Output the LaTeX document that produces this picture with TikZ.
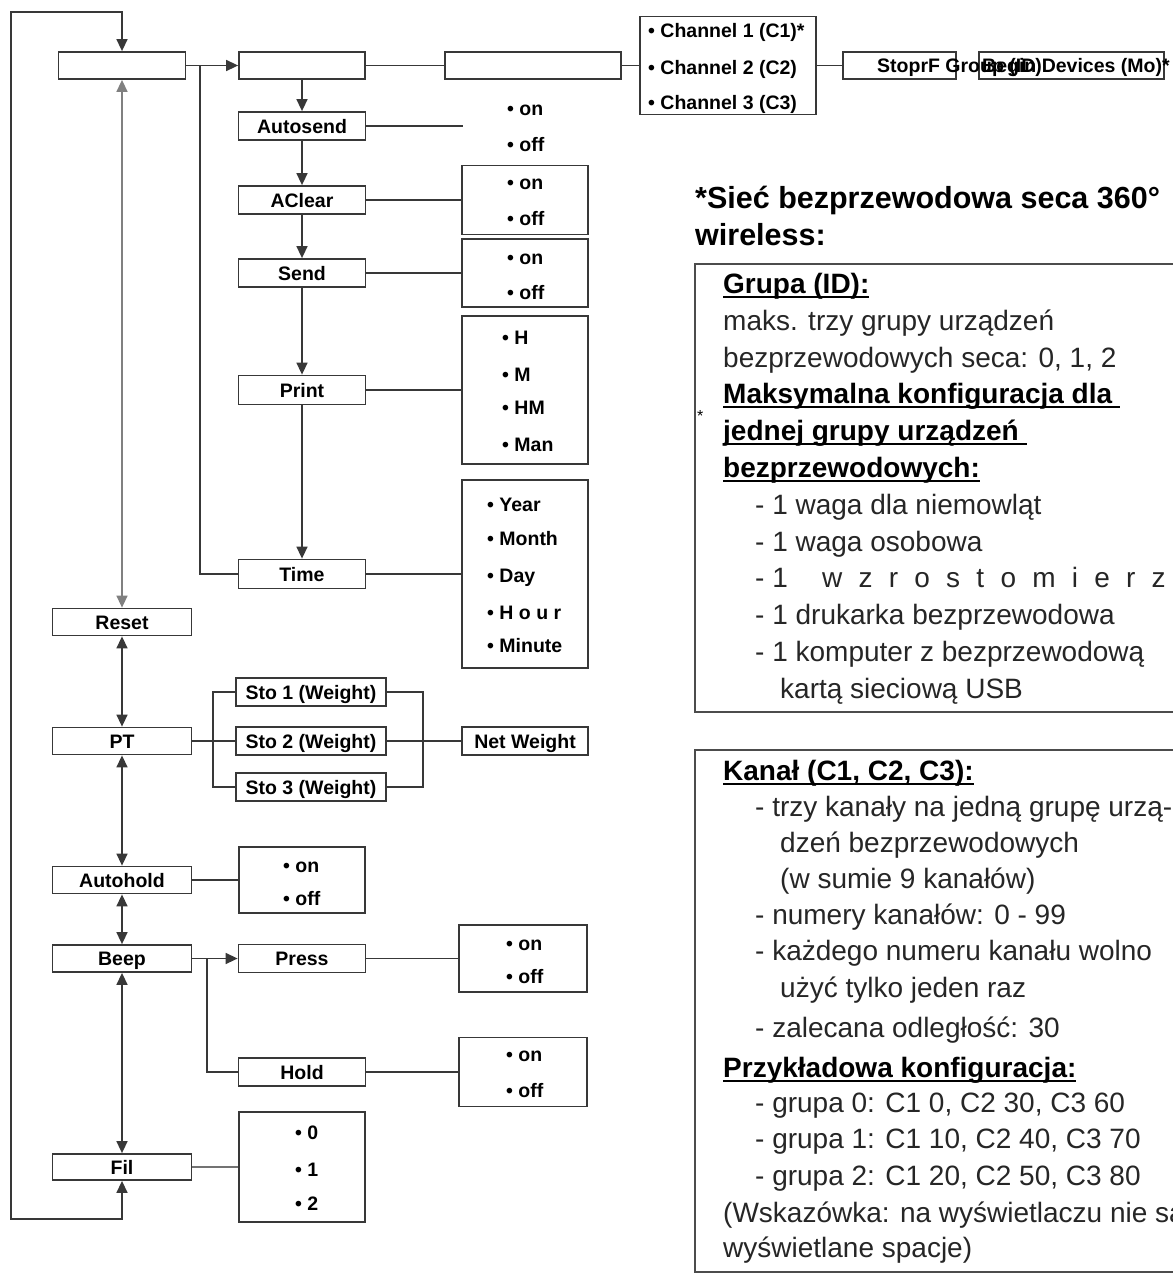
\documentclass[tikz,border=0pt]{standalone}
\usepackage{fontspec}
\setmainfont{Liberation Sans}
\usetikzlibrary{arrows.meta}
\newsavebox\ulbox
\newcommand\ulx[1]{\sbox\ulbox{#1}\rlap{\rule[-5pt]{\wd\ulbox}{2pt}}\usebox\ulbox}
\begin{document}
\begin{tikzpicture}[x=1pt,y=-1pt,
  lbl/.style={font=\fontsize{19.5}{22}\selectfont\bfseries},
  bx/.style={draw=black!78, line width=1.8pt, inner sep=0pt, lbl, text height=14pt, text depth=0pt},
  ln/.style={draw=black!78, line width=1.5pt},
  ar/.style={ln, -{Triangle[length=12pt,width=11pt]}},
  bi/.style={ln, {Triangle[length=12pt,width=11pt]}-{Triangle[length=12pt,width=11pt]}},
  opt/.style={lbl, anchor=base west, inner sep=0pt},
  ptx/.style={font=\fontsize{28}{32}\selectfont, anchor=base west, inner sep=0pt, text=black!85},
  pbx/.style={font=\fontsize{28}{32}\selectfont\bfseries, anchor=base west, inner sep=0pt},
  ttl/.style={font=\fontsize{30.5}{34}\selectfont\bfseries, anchor=base west, inner sep=0pt},
  pframe/.style={draw=black!70, line width=1.8pt}
]
\useasboundingbox (0,0) rectangle (1173,1278);
\fill[white] (0,0) rectangle (1173,1278);
\clip (0,0) rectangle (1173,1278);

% ---------- top row ----------
\node[bx, minimum width=127pt, minimum height=27pt] (b1) at (122,65.5) {};
\node[bx, minimum width=126pt, minimum height=27pt] (b2) at (302,65.5) {};
\node[bx, minimum width=176pt, minimum height=27pt] (b3) at (533,65.5) {};
\node[bx, minimum width=176pt, minimum height=98pt] (ch) at (728,65.5) {};
\node[opt] (c1) at (648,37) {• Channel 1 (C1)*};
\node[opt] (c2) at (648,74) {• Channel 2 (C2)};
\node[opt] (c3) at (648,109) {• Channel 3 (C3)};
\node[bx, minimum width=113pt, minimum height=27pt] (sf1) at (899.5,65.5) {};
\node[bx, minimum width=185pt, minimum height=27pt] (sf2) at (1071.5,65.5) {};
\node[opt] (sfa) at (877,72.5) {StoprF Group (ID)};
\node[opt] (sfb) at (982,72.5) {Begin Devices (Mo)*};

% ---------- middle column ----------
\node[bx, minimum width=127pt, minimum height=28pt] (as) at (302,126) {Autosend};
\node[bx, minimum width=127pt, minimum height=28pt] (ac) at (302,200) {AClear};
\node[bx, minimum width=127pt, minimum height=28pt] (se) at (302,273) {Send};
\node[bx, minimum width=127pt, minimum height=29pt] (pr) at (302,390) {Print};
\node[bx, minimum width=127pt, minimum height=29pt] (ti) at (302,574) {Time};

\coordinate (asend) at (463,126);
\node[opt] (as1) at (507,115) {• on};
\node[opt] (as2) at (507,151) {• off};
\node[bx, minimum width=126pt, minimum height=69pt] (aco) at (525,200) {};
\node[opt] (ac1) at (507,189) {• on};
\node[opt] (ac2) at (507,225) {• off};
\node[bx, minimum width=126pt, minimum height=68pt] (seo) at (525,273) {};
\node[opt] (se1) at (507,264) {• on};
\node[opt] (se2) at (507,299) {• off};
\node[bx, minimum width=126pt, minimum height=148pt] (pro) at (525,390) {};
\node[opt] (pr1) at (502,344) {• H};
\node[opt] (pr2) at (502,381) {• M};
\node[opt] (pr3) at (502,414) {• HM};
\node[opt] (pr4) at (502,451) {• Man};
\node[bx, minimum width=126pt, minimum height=188pt] (tio) at (525,574) {};
\node[opt] (ti1) at (487,511) {• Year};
\node[opt] (ti2) at (487,545) {• Month};
\node[opt] (ti3) at (487,582) {• Day};
\node[opt] (ti4) at (487,619) {• H o u r};
\node[opt] (ti5) at (487,652) {• Minute};

% ---------- left column ----------
\node[bx, minimum width=139pt, minimum height=27pt] (re) at (122,622) {Reset};
\node[bx, minimum width=139pt, minimum height=27pt] (pt) at (122,741) {PT};
\node[bx, minimum width=139pt, minimum height=27pt] (ah) at (122,880) {Autohold};
\node[bx, minimum width=139pt, minimum height=27pt] (be) at (122,958.5) {Beep};
\node[bx, minimum width=139pt, minimum height=26pt] (fi) at (122,1167) {Fil};

\node[bx, minimum width=150pt, minimum height=28pt] (s1) at (311,692) {Sto 1 (Weight)};
\node[bx, minimum width=150pt, minimum height=28pt] (s2) at (311,741) {Sto 2 (Weight)};
\node[bx, minimum width=150pt, minimum height=28pt] (s3) at (311,787) {Sto 3 (Weight)};
\node[bx, minimum width=126pt, minimum height=28pt] (nw) at (525,741) {Net Weight};

\node[bx, minimum width=126pt, minimum height=66pt] (aho) at (302,880) {};
\node[opt] (ah1) at (283,872) {• on};
\node[opt] (ah2) at (283,905) {• off};

\node[bx, minimum width=127pt, minimum height=28pt] (pre) at (302,958.5) {Press};
\node[bx, minimum width=127pt, minimum height=28pt] (ho) at (302,1072) {Hold};
\node[bx, minimum width=128pt, minimum height=67pt] (preo) at (523,958.5) {};
\node[opt] (pe1) at (506,950) {• on};
\node[opt] (pe2) at (506,983) {• off};
\node[bx, minimum width=128pt, minimum height=69pt] (hoo) at (523,1072) {};
\node[opt] (ho1) at (506,1061) {• on};
\node[opt] (ho2) at (506,1097) {• off};

\node[bx, minimum width=126pt, minimum height=110pt] (fio) at (302,1167) {};
\node[opt] (fo1) at (295,1139) {• 0};
\node[opt] (fo2) at (295,1176) {• 1};
\node[opt] (fo3) at (295,1210) {• 2};

% ---------- connectors ----------
\coordinate (lt) at (11,12);
\coordinate (lb) at (11,1219);
\draw[bi] (b1.north) |- (lt) -- (lb) -| (fi.south);
\draw[bi, draw=black!50] (b1.south) -- (re.north);
\draw[bi] (re.south) -- (pt.north);
\draw[bi] (pt.south) -- (ah.north);
\draw[bi] (ah.south) -- (be.north);
\draw[bi] (be.south) -- (fi.north);

\draw[ar] (b1.east) -- (b2.west);
\coordinate (br1) at (200,65.5);
\draw[ln] (br1) |- (ti.west);
\draw[ln] (b2.east) -- (b3.west);
\draw[ln] (b3.east) -- (ch.west);
\draw[ln] (ch.east) -- (sf1.west);

\draw[ar] (b2.south) -- (as.north);
\draw[ar] (as.south) -- (ac.north);
\draw[ar] (ac.south) -- (se.north);
\draw[ar] (se.south) -- (pr.north);
\draw[ar] (pr.south) -- (ti.north);

\draw[ln] (as.east) -- (asend);
\draw[ln] (ac.east) -- (aco.west);
\draw[ln] (se.east) -- (seo.west);
\draw[ln] (pr.east) -- (pro.west);
\draw[ln] (ti.east) -- (tio.west);

\coordinate (sl) at (213,741);
\coordinate (sr) at (423,741);
\draw[ln] (s1.west) -| (sl) |- (s3.west);
\draw[ln] (pt.east) -- (s2.west);
\draw[ln] (s1.east) -| (sr) |- (s3.east);
\draw[ln] (s2.east) -- (nw.west);

\draw[ln] (ah.east) -- (aho.west);
\draw[ar] (be.east) -- (pre.west);
\coordinate (br2) at (207,958.5);
\draw[ln] (br2) |- (ho.west);
\draw[ln] (pre.east) -- (preo.west);
\draw[ln] (ho.east) -- (hoo.west);
\draw[ln, draw=black!55] (fi.east) -- (fio.west);

% ---------- right panel ----------
\node[ttl] (t1) at (695,208) {*Sieć bezprzewodowa seca 360°};
\node[ttl] (t2) at (695,245) {wireless:};

\draw[pframe] (1200,264) -- (695,264) -- (695,712) -- (1200,712);
\node[font=\fontsize{16}{16}\selectfont, anchor=north west, inner sep=0pt] (ast) at (697,410) {*};
\node[pbx] (g1) at (723,293) {\ulx{Grupa (ID):}};
\node[ptx] (g2) at (723,330) {maks. trzy grupy urządzeń};
\node[ptx] (g3) at (723,367) {bezprzewodowych seca: 0, 1, 2};
\node[pbx] (g4) at (723,403) {\ulx{Maksymalna konfiguracja dla\ }};
\node[pbx] (g5) at (723,440) {\ulx{jednej grupy urządzeń\ }};
\node[pbx] (g6) at (723,477) {\ulx{bezprzewodowych:}};
\node[ptx] (g7) at (755,514) {- 1 waga dla niemowląt};
\node[ptx] (g8) at (755,551) {- 1 waga osobowa};
\node[ptx] (g9) at (755,587) {- 1};
\node[ptx] (g9b) at (822,587) {\addfontfeature{LetterSpace=58}wzrostomierz};
\node[ptx] (g10) at (755,624) {- 1 drukarka bezprzewodowa};
\node[ptx] (g11) at (755,661) {- 1 komputer z bezprzewodową};
\node[ptx] (g12) at (780,698) {kartą sieciową USB};

\draw[pframe] (1200,750) -- (695,750) -- (695,1272) -- (1200,1272);
\node[pbx] (k1) at (723,780) {\ulx{Kanał (C1, C2, C3):}};
\node[ptx] (k2) at (755,816) {- trzy kanały na jedną grupę urzą-};
\node[ptx] (k3) at (780,852) {dzeń bezprzewodowych};
\node[ptx] (k4) at (780,888) {(w sumie 9 kanałów)};
\node[ptx] (k5) at (755,924) {- numery kanałów: 0 - 99};
\node[ptx] (k6) at (755,960) {- każdego numeru kanału wolno};
\node[ptx] (k7) at (780,997) {użyć tylko jeden raz};
\node[ptx] (k8) at (755,1037) {- zalecana odległość: 30};
\node[pbx] (k9) at (723,1077) {\ulx{Przykładowa konfiguracja:}};
\node[ptx] (k10) at (755,1112) {- grupa 0: C1 0, C2 30, C3 60};
\node[ptx] (k11) at (755,1148) {- grupa 1: C1 10, C2 40, C3 70};
\node[ptx] (k12) at (755,1185) {- grupa 2: C1 20, C2 50, C3 80};
\node[ptx] (k13) at (723,1222) {(Wskazówka: na wyświetlaczu nie są};
\node[ptx] (k14) at (723,1257) {wyświetlane spacje)};
\end{tikzpicture}
\end{document}
